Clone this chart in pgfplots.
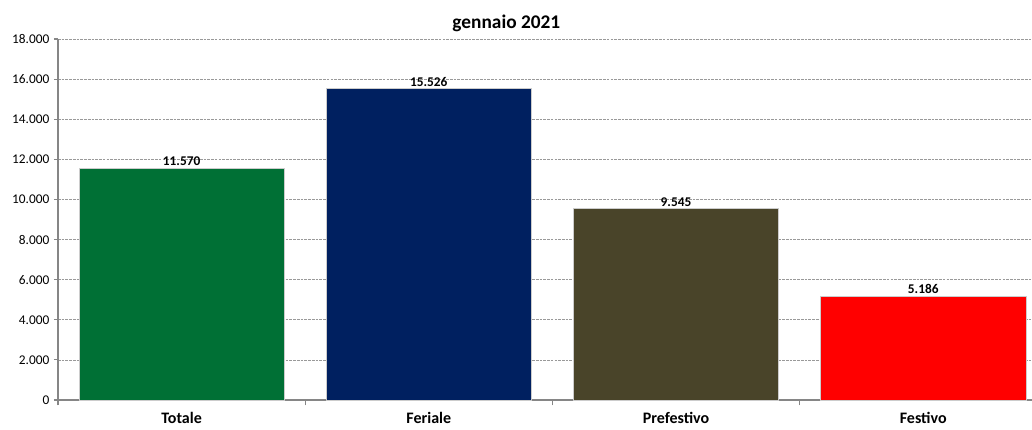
\documentclass[border=0pt]{standalone}
\usepackage{pgfplots}
\pgfplotsset{compat=1.18}
\usepackage{fontspec}
\setmainfont{Carlito}
\definecolor{cTot}{RGB}{0,112,53}
\definecolor{cFer}{RGB}{0,32,96}
\definecolor{cPre}{RGB}{73,68,41}
\definecolor{cFes}{RGB}{255,0,0}
\definecolor{axgray}{RGB}{134,134,134}
\begin{document}
\begin{tikzpicture}
\useasboundingbox (-43.5pt,-21.75pt) rectangle (730.5pt,300pt);
\begin{axis}[
  at={(0,0)}, anchor=south west,
  scale only axis, width=730.5pt, height=270.75pt,
  xmin=-0.5, xmax=3.44, ymin=0, ymax=18000,
  axis lines*=left,
  axis line style={axgray, line width=0.8pt},
  xtick={0,1,2,3},
  xticklabels={Totale,Feriale,Prefestivo,Festivo},
  x tick label style={font=\bfseries\fontsize{12}{14}\selectfont, yshift=-3pt},
  minor xtick={-0.5,0.5,1.5,2.5},
  major x tick style={draw=none},
  minor x tick style={axgray, line width=0.8pt},
  minor tick length=4pt,
  tick align=outside,
  ytick={0,2000,...,18000},
  y tick label style={font=\fontsize{10}{12}\selectfont},
  major y tick style={axgray, line width=0.8pt},
  major tick length=3pt,
  scaled y ticks=false,
  /pgf/number format/.cd, 1000 sep={.}, fixed, precision=0, assume math mode=true,
  /pgfplots/.cd,
  ymajorgrids,
  grid style={dash pattern=on 2pt off 0.8pt, gray!80, line width=0.5pt},
  title={gennaio 2021},
  title style={font=\bfseries\fontsize{14.5}{16}\selectfont, yshift=-4pt, xshift=-29pt},
  ybar, bar width=0.83, bar shift=0pt,
  nodes near coords,
  nodes near coords style={font=\bfseries\fontsize{10}{12}\selectfont, black, yshift=-2pt,
    /pgf/number format/.cd, 1000 sep={.}, fixed, precision=0, assume math mode=true},
]
\addplot[fill=cTot, draw=gray!40] coordinates {(0,11570)};
\addplot[fill=cFer, draw=gray!40] coordinates {(1,15526)};
\addplot[fill=cPre, draw=gray!40] coordinates {(2,9545)};
\addplot[fill=cFes, draw=gray!40] coordinates {(3,5186)};
\end{axis}
\end{tikzpicture}
\end{document}
